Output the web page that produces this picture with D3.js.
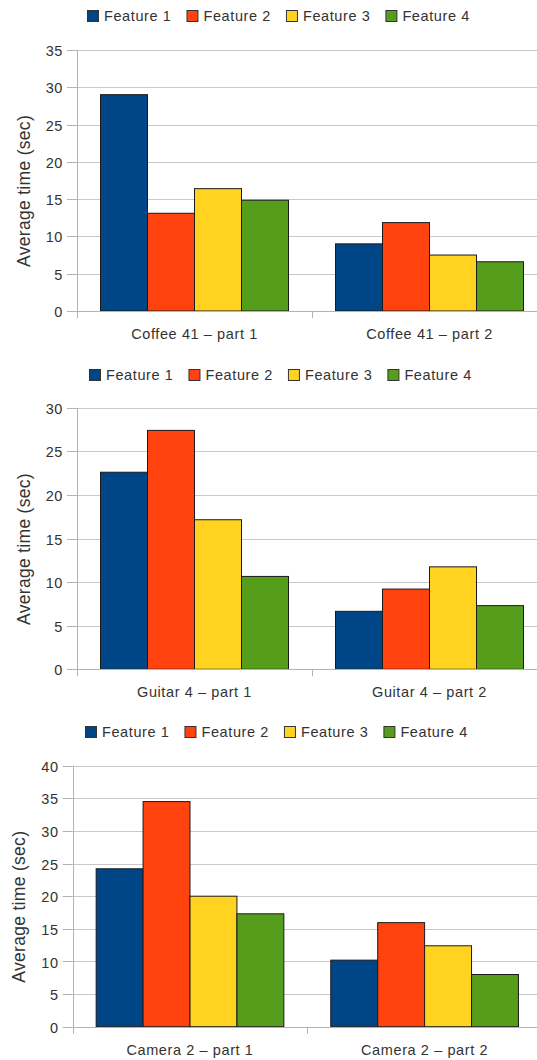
<!DOCTYPE html>
<html>
<head>
<meta charset="utf-8">
<script src="https://cdn.jsdelivr.net/npm/d3@7"></script>
<style>
  html, body { margin: 0; padding: 0; background: #fff; }
  svg { display: block; }
  text { font-family: "Liberation Sans", Arial, sans-serif; fill: #333; }
</style>
</head>
<body>
<div id="chart"></div>
<script>
  // Series names and colors
  var FEATURES = ['Feature 1', 'Feature 2', 'Feature 3', 'Feature 4'];
  var COLORS = ['#004586', '#ff420e', '#ffd320', '#579d1c'];

  // Coffee 41
  var COFFEE_CATS = ['Coffee 41 – part 1', 'Coffee 41 – part 2'];
  var COFFEE_VALUES = [[29.0, 13.1, 16.4, 14.85], [9.0, 11.85, 7.5, 6.6]];
  var COFFEE_TICKS = [0, 5, 10, 15, 20, 25, 30, 35];

  // Guitar 4
  var GUITAR_CATS = ['Guitar 4 – part 1', 'Guitar 4 – part 2'];
  var GUITAR_VALUES = [[22.6, 27.4, 17.15, 10.65], [6.65, 9.2, 11.75, 7.3]];
  var GUITAR_TICKS = [0, 5, 10, 15, 20, 25, 30];

  // Camera 2
  var CAMERA_CATS = ['Camera 2 – part 1', 'Camera 2 – part 2'];
  var CAMERA_VALUES = [[24.2, 34.5, 20.0, 17.3], [10.2, 15.95, 12.4, 8.0]];
  var CAMERA_TICKS = [0, 5, 10, 15, 20, 25, 30, 35, 40];

  var W = 537, H = 1060;
  var FS = '14.5px', LS = '0.6px';

  var svg = d3.select('#chart').append('svg')
    .attr('width', W)
    .attr('height', H);

  // one panel per product
  function drawPanel(cfg) {
    var g = svg.append('g');
    var yMax = cfg.ticks[cfg.ticks.length - 1];

    var y = d3.scaleLinear()
      .domain([0, yMax])
      .range([cfg.bottom, cfg.top]);

    var x = d3.scaleBand()
      .domain(cfg.cats)
      .range([cfg.left, cfg.left + cfg.step * cfg.cats.length])
      .paddingInner(0.2)
      .paddingOuter(0.1);

    var xs = d3.scaleBand()
      .domain(FEATURES)
      .range([0, x.bandwidth()]);

    function py(d) { return Math.round(y(d)) + 0.5; }

    // gridlines
    g.selectAll('.grid')
      .data(cfg.ticks)
      .join('line')
      .attr('x1', cfg.left)
      .attr('x2', W)
      .attr('y1', py)
      .attr('y2', py)
      .attr('stroke', '#c8c8c8');

    // y ticks + labels
    g.selectAll('.ytick')
      .data(cfg.ticks)
      .join('line')
      .attr('x1', cfg.left - 10)
      .attr('x2', cfg.left)
      .attr('y1', py)
      .attr('y2', py)
      .attr('stroke', '#b3b3b3');

    g.selectAll('.ylab')
      .data(cfg.ticks)
      .join('text')
      .attr('x', cfg.left - 14)
      .attr('y', function (d) { return y(d) + 1; })
      .attr('dy', '0.35em')
      .attr('text-anchor', 'end')
      .attr('font-size', FS)
      .attr('letter-spacing', LS)
      .text(function (d) { return d; });

    // y axis line (runs a little below baseline)
    g.append('line')
      .attr('x1', Math.round(cfg.left) + 0.5)
      .attr('x2', Math.round(cfg.left) + 0.5)
      .attr('y1', cfg.top)
      .attr('y2', cfg.bottom + 7)
      .attr('stroke', '#b3b3b3');

    // x ticks at band boundaries
    var bounds = cfg.cats.map(function (c) { return x(c) - x.step() * 0.1; });
    g.selectAll('.xtick')
      .data(bounds.slice(1))
      .join('line')
      .attr('x1', function (d) { return Math.round(d) + 0.5; })
      .attr('x2', function (d) { return Math.round(d) + 0.5; })
      .attr('y1', cfg.bottom)
      .attr('y2', cfg.bottom + 7)
      .attr('stroke', '#b3b3b3');

    // bars
    cfg.cats.forEach(function (c, ci) {
      g.selectAll('.bar-' + ci)
        .data(cfg.values[ci])
        .join('rect')
        .attr('x', function (d, i) { return x(c) + xs(FEATURES[i]); })
        .attr('y', function (d) { return y(d); })
        .attr('width', xs.bandwidth())
        .attr('height', function (d) { return y(0) - y(d); })
        .attr('fill', function (d, i) { return COLORS[i]; })
        .attr('stroke', '#1a1a1a')
        .attr('stroke-width', 1);
    });

    // baseline
    g.append('line')
      .attr('x1', cfg.left)
      .attr('x2', W)
      .attr('y1', Math.round(cfg.bottom) + 0.5)
      .attr('y2', Math.round(cfg.bottom) + 0.5)
      .attr('stroke', '#b3b3b3');

    // category labels
    g.selectAll('.xlab')
      .data(cfg.cats)
      .join('text')
      .attr('x', function (d) { return x(d) + x.bandwidth() / 2; })
      .attr('y', cfg.bottom + 23)
      .attr('dy', '0.35em')
      .attr('text-anchor', 'middle')
      .attr('font-size', FS)
      .attr('letter-spacing', LS)
      .text(function (d) { return d; });

    // y title
    var ty = (cfg.top + cfg.bottom) / 2 + 10.5;
    g.append('text')
      .attr('transform', 'translate(' + cfg.titleX + ',' + ty + ') rotate(-90)')
      .attr('text-anchor', 'middle')
      .attr('font-size', '17.5px')
      .attr('letter-spacing', '0.3px')
      .text('Average time (sec)');

    // legend
    var leg = g.append('g');
    var xOff = 0;
    FEATURES.forEach(function (f, i) {
      leg.append('rect')
        .attr('x', xOff + 0.5)
        .attr('y', -5.5)
        .attr('width', 11)
        .attr('height', 11)
        .attr('fill', COLORS[i])
        .attr('stroke', '#333');
      var t = leg.append('text')
        .attr('x', xOff + 17)
        .attr('y', 0)
        .attr('dy', '0.35em')
        .attr('font-size', FS)
        .attr('letter-spacing', LS)
        .text(f);
      xOff += 17 + t.node().getComputedTextLength() + 15;
    });
    xOff -= 15;
    leg.attr('transform', 'translate(' + Math.round(cfg.legendCx - xOff / 2) + ',' + Math.round(cfg.legendY) + ')');
  }

  drawPanel({ cats: COFFEE_CATS, values: COFFEE_VALUES, ticks: COFFEE_TICKS,
    top: 49.9, bottom: 311, left: 77, step: 235, titleX: 29.5, legendY: 16, legendCx: 278 });
  drawPanel({ cats: GUITAR_CATS, values: GUITAR_VALUES, ticks: GUITAR_TICKS,
    top: 407.7, bottom: 669.3, left: 77, step: 235, titleX: 29.5, legendY: 375, legendCx: 280 });
  drawPanel({ cats: CAMERA_CATS, values: CAMERA_VALUES, ticks: CAMERA_TICKS,
    top: 765.7, bottom: 1026.7, left: 72.7, step: 234.6, titleX: 25, legendY: 731.7, legendCx: 276 });
</script>
</body>
</html>
